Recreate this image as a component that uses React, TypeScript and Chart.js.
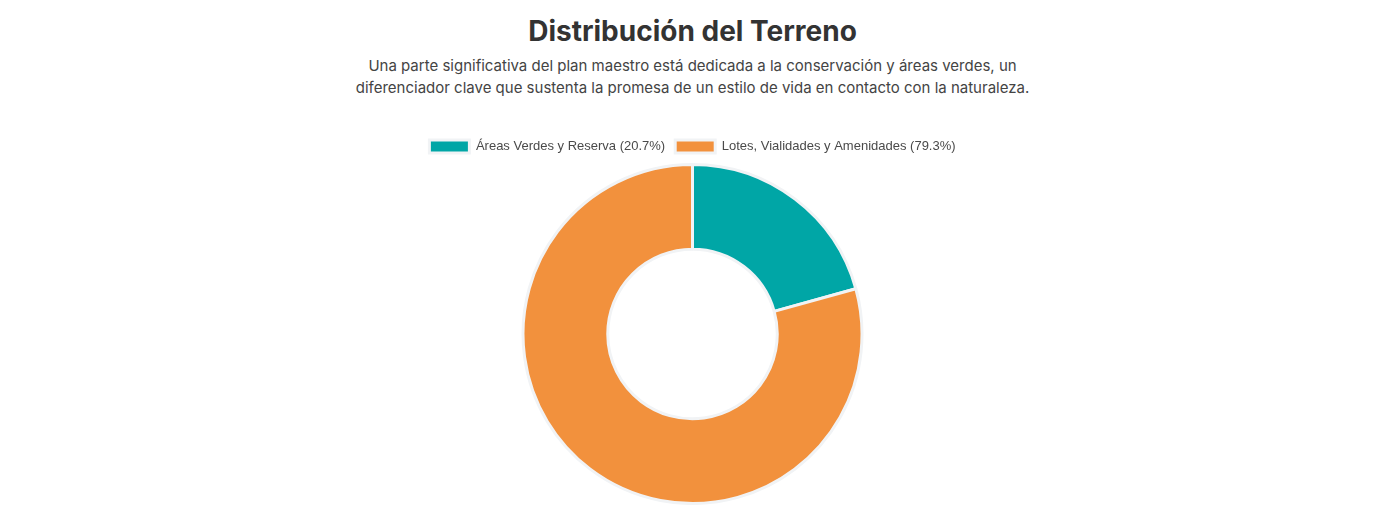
import { useEffect, useRef } from "react"
import { Chart, registerables } from "chart.js"

Chart.register(...registerables)

// Datos del gráfico
const categories = ["Áreas Verdes y Reserva", "Lotes, Vialidades y Amenidades"]
const percentages = [20.7, 79.3]
const colors = ["#00A6A6", "#F2913D"]

function LandChart() {
  const chartRef = useRef<HTMLCanvasElement>(null)
  const chartInstance = useRef<Chart | null>(null)

  useEffect(() => {
    if (!chartRef.current) return
    if (chartInstance.current) chartInstance.current.destroy()

    const ctx = chartRef.current.getContext("2d")
    if (!ctx) return

    chartInstance.current = new Chart(ctx, {
      type: "doughnut",
      data: {
        labels: categories.map((c, i) => `${c} (${percentages[i]}%)`),
        datasets: [
          {
            data: percentages,
            backgroundColor: colors,
            borderColor: "#f1f3f5",
            borderWidth: 3,
          },
        ],
      },
      options: {
        responsive: true,
        maintainAspectRatio: false,
        animation: false,
        cutout: "50%",
        plugins: {
          legend: {
            position: "top",
            labels: {
              color: "#4a4a4a",
              font: { size: 13, lineHeight: 1.0 },
            },
          },
          title: { display: false },
        },
      },
    })

    return () => {
      if (chartInstance.current) {
        chartInstance.current.destroy()
        chartInstance.current = null
      }
    }
  }, [])

  return (
    <div style={{ position: "relative", height: 375, marginTop: 31 }}>
      <canvas ref={chartRef} />
    </div>
  )
}

export default function App() {
  return (
    <div style={{ fontFamily: "Inter, sans-serif", textAlign: "center" }}>
      <h2
        style={{
          margin: "5px 0 0 0",
          fontSize: 28,
          lineHeight: "36px",
          fontWeight: 700,
          color: "#333333",
        }}
      >
        Distribución del Terreno
      </h2>
      <p
        style={{
          margin: "6px auto 0 auto",
          maxWidth: 684,
          fontSize: 15,
          lineHeight: "22px",
          color: "#444444",
        }}
      >
        Una parte significativa del plan maestro está dedicada a la conservación y áreas verdes, un
        diferenciador clave que sustenta la promesa de un estilo de vida en contacto con la naturaleza.
      </p>
      <LandChart />
    </div>
  )
}
